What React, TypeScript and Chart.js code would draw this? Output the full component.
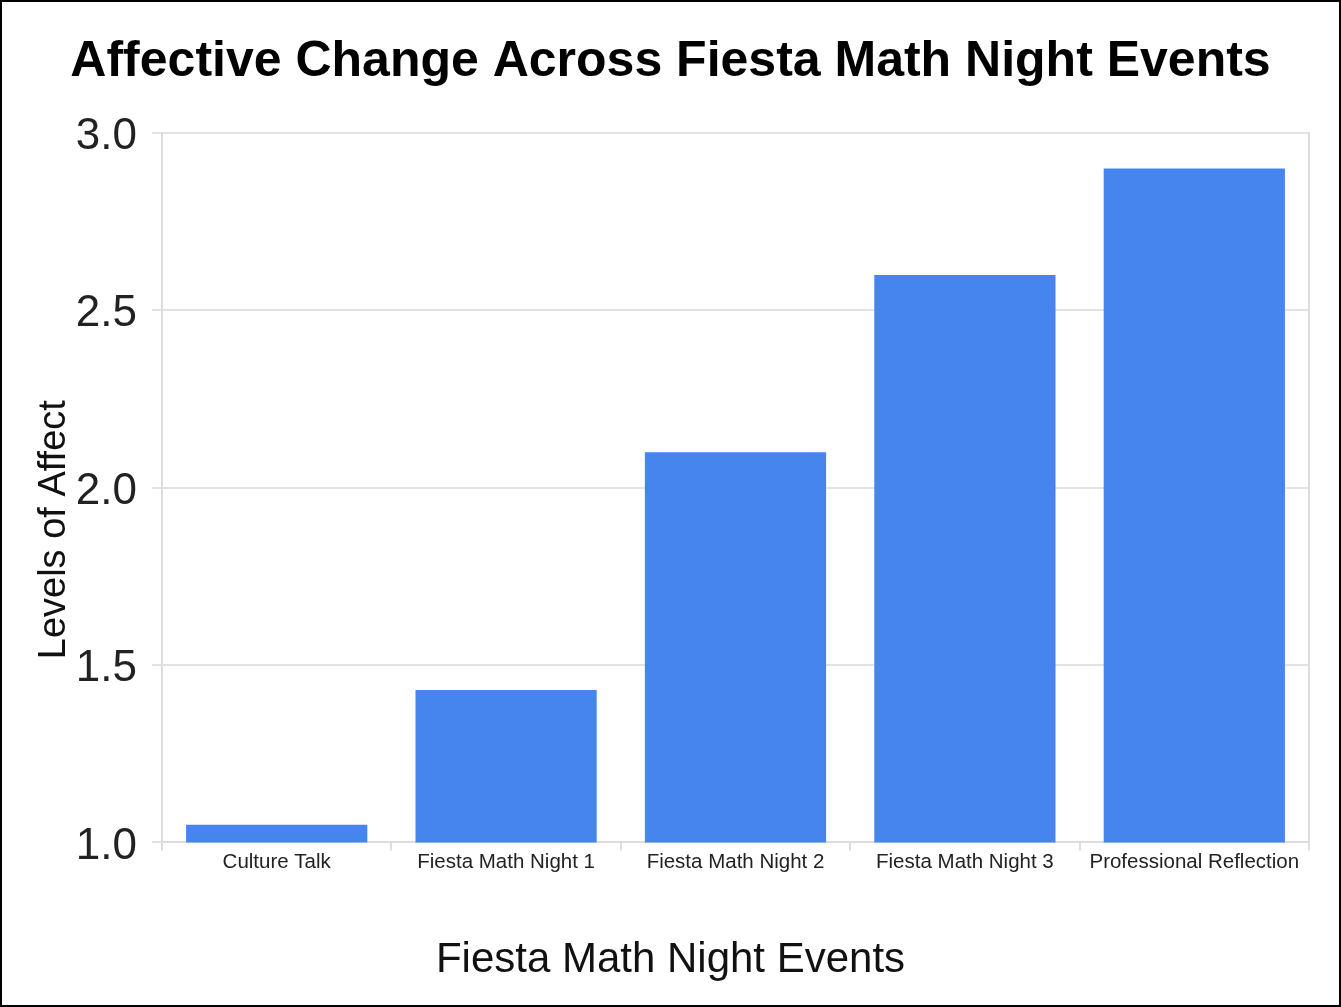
import React, { useEffect, useRef } from "react";
import { Chart, registerables } from "chart.js";

Chart.register(...registerables);

const categories = [
  "Culture Talk",
  "Fiesta Math Night 1",
  "Fiesta Math Night 2",
  "Fiesta Math Night 3",
  "Professional Reflection",
];
const affectLevels = [1.05, 1.43, 2.1, 2.6, 2.9];
const chartTitle = "Affective Change Across Fiesta Math Night Events";
const xTitle = "Fiesta Math Night Events";
const yTitle = "Levels of Affect";

const FONT = "'Liberation Sans', Arial, Helvetica, sans-serif";

const axisTitlePlugin = {
  id: "axisTitlePlugin",
  afterDraw(chart: any) {
    const ctx = chart.ctx;
    const area = chart.chartArea;
    ctx.save();
    ctx.fillStyle = "#111";
    ctx.textAlign = "center";
    ctx.textBaseline = "middle";
    // x-axis title, centred on the whole canvas
    ctx.font = `42px ${FONT}`;
    ctx.fillText(xTitle, chart.width / 2, 958);
    // y-axis title, rotated
    ctx.font = `38px ${FONT}`;
    ctx.translate(53, (area.top + area.bottom) / 2 + 42);
    ctx.rotate(-Math.PI / 2);
    ctx.fillText(yTitle, 0, 0);
    ctx.restore();
  },
};

export default function App() {
  const ref = useRef<HTMLCanvasElement | null>(null);
  useEffect(() => {
    document.body.style.margin = "0";
    const canvas = ref.current;
    if (!canvas) return;
    const chart = new Chart(canvas, {
      type: "bar",
      data: {
        labels: categories,
        datasets: [
          {
            data: affectLevels,
            backgroundColor: "#4684EE",
            borderWidth: 0,
            barPercentage: 0.79,
            categoryPercentage: 1,
          },
        ],
      },
      options: {
        animation: false,
        responsive: false,
        maintainAspectRatio: false,
        layout: { padding: { left: 0, right: 0, top: 0, bottom: 130 } },
        plugins: {
          legend: { display: false },
          tooltip: { enabled: false },
          title: {
            display: true,
            text: chartTitle,
            color: "#000",
            font: { family: FONT, size: 50, weight: "bold" },
            padding: { top: 30, bottom: 41 },
          },
        },
        scales: {
          x: {
            offset: true,
            grid: {
              display: true,
              drawOnChartArea: false,
              drawTicks: true,
              tickLength: 8,
              color: "#dddddd",
              lineWidth: 2,
              offset: true,
            },
            border: { display: true, color: "#dddddd", width: 2 },
            ticks: {
              color: "#222",
              font: { family: FONT, size: 20.5 },
              padding: 0,
              maxRotation: 0,
              autoSkip: false,
            },
          },
          y: {
            min: 1,
            max: 3,
            afterFit: (scale: any) => {
              scale.width = 160;
            },
            grid: {
              color: "#e3e3e3",
              lineWidth: 2,
              tickLength: 10,
            },
            border: { display: true, color: "#dddddd", width: 2 },
            ticks: {
              stepSize: 0.5,
              color: "#222",
              font: { family: FONT, size: 44 },
              padding: 15,
              labelOffset: 4,
              callback: (v: any) => Number(v).toFixed(1),
            },
          },
          y2: {
            position: "right",
            display: true,
            afterFit: (scale: any) => {
              scale.width = 30;
            },
            grid: { display: false, drawTicks: false },
            border: { display: true, color: "#dddddd", width: 2 },
            ticks: { display: false },
          },
        },
      },
      plugins: [axisTitlePlugin],
    } as any);
    return () => chart.destroy();
  }, []);
  return (
    <div
      style={{
        width: 1341,
        height: 1007,
        border: "2px solid #000",
        boxSizing: "border-box",
        background: "#fff",
      }}
    >
      <canvas ref={ref} width={1337} height={1003} style={{ display: "block" }} />
    </div>
  );
}
